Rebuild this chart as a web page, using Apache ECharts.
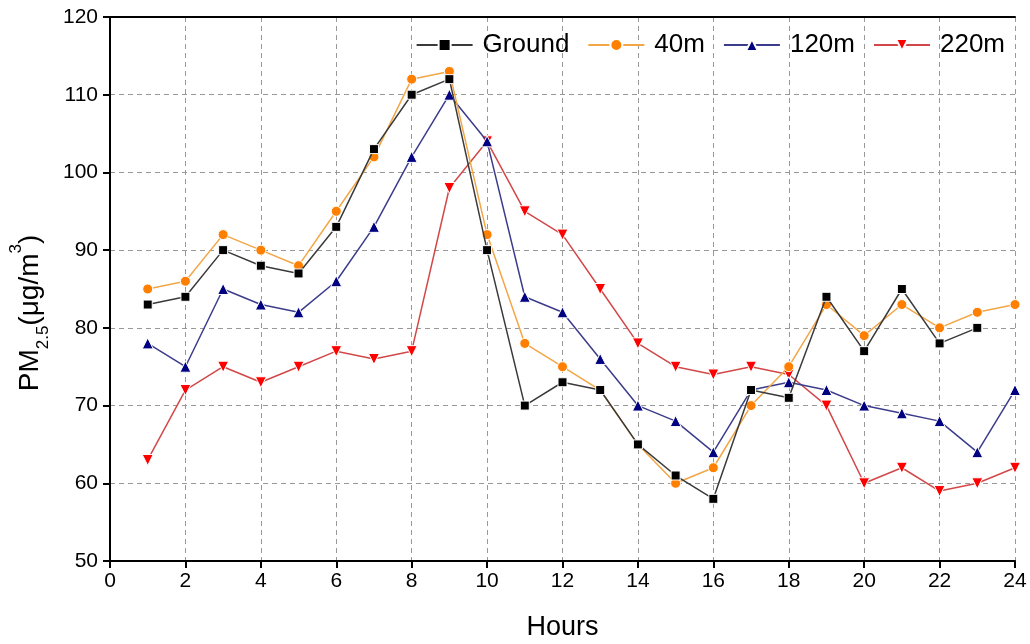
<!DOCTYPE html>
<html><head><meta charset="utf-8">
<script src="https://cdn.jsdelivr.net/npm/echarts@6/dist/echarts.min.js"></script>
<style>html,body{margin:0;padding:0;background:#fff}#c{width:1030px;height:644px}</style>
</head><body><div id="c"></div>
<script>
const hours = [1,2,3,4,5,6,7,8,9,10,11,12,13,14,15,16,17,18,19,20,21,22,23,24];
const ground = [83,84,90,88,87,93,103,110,112,90,70,73,72,65,61,58,72,71,84,77,85,78,80,null];
const m40 = [85,86,92,90,88,95,102,112,113,92,78,75,72,65,60,62,70,75,83,79,83,80,82,83];
const m120 = [78,75,85,83,82,86,93,102,110,104,84,82,76,70,68,64,72,73,72,70,69,68,64,72];
const m220 = [63,72,75,73,75,77,76,77,98,104,95,92,85,78,75,74,75,74,70,60,62,59,60,62];
const seriesNames = ['Ground','40m','120m','220m'];

const pairs = arr => hours.map((h,i)=>[h, arr[i]]);
const FONT = '"Liberation Sans", Arial, sans-serif';
function mk(name, data, lineColor, markColor, symbol, size, z){
  return {name, type:'line', data:pairs(data), symbol, symbolSize:size, z,
    xAxisIndex:0, yAxisIndex:0,
    lineStyle:{color:lineColor, width:1.5},
    itemStyle:{color:markColor, borderColor:'#fff', borderWidth:1},
    emphasis:{disabled:true}, connectNulls:false};
}
const frameAxis = {show:true, axisLine:{show:true, lineStyle:{color:'#000', width:2}},
  axisTick:{show:false}, axisLabel:{show:false}, splitLine:{show:false}};
const chart = echarts.init(document.getElementById('c'), null, {renderer:'canvas'});
chart.setOption({
  animation:false,
  textStyle:{fontFamily:FONT},
  grid:{left:110, right:15, top:17, bottom:83, containLabel:false, outerBoundsMode:'none'},
  legend:{top:27, right:20, itemWidth:56, itemHeight:15, itemGap:18,
    textStyle:{fontSize:26, color:'#000', fontFamily:FONT, padding:[0,0,0,5]}, data:seriesNames},
  xAxis:[{type:'value', min:0, max:24, interval:2,
    name:'Hours', nameLocation:'middle', nameGap:53,
    nameTextStyle:{fontSize:27, color:'#000', fontFamily:FONT},
    axisLine:{show:true, lineStyle:{color:'#000', width:2}},
    axisTick:{show:true, inside:false, length:7, lineStyle:{color:'#000', width:2}},
    axisLabel:{fontSize:21, color:'#000', margin:10, fontFamily:FONT},
    splitLine:{show:true, lineStyle:{color:'#999', type:[5,4], width:1}}},
    {type:'value', min:0, max:24, interval:2, position:'top', ...frameAxis}],
  yAxis:[{type:'value', min:50, max:120, interval:10,
    name:'{a|PM}{s|2.5}{a|(μg/m}{p|3}{a|)}', nameLocation:'middle', nameGap:58, nameRotate:90,
    nameTextStyle:{color:'#000', fontFamily:FONT, padding:[0,48,0,0], rich:{
      a:{fontSize:28, color:'#000', fontFamily:FONT, lineHeight:32, verticalAlign:'middle'},
      s:{fontSize:17, color:'#000', fontFamily:FONT, lineHeight:44, verticalAlign:'bottom'},
      p:{fontSize:17, color:'#000', fontFamily:FONT, lineHeight:20, verticalAlign:'top'}}},
    axisLine:{show:true, lineStyle:{color:'#000', width:2}},
    axisTick:{show:true, inside:false, length:7, lineStyle:{color:'#000', width:2}},
    axisLabel:{fontSize:21, color:'#000', margin:12, fontFamily:FONT},
    splitLine:{show:true, lineStyle:{color:'#999', type:[5,4], width:1}}},
    {type:'value', min:50, max:120, interval:10, position:'right', ...frameAxis}],
  series:[
    mk('Ground', ground, '#3a3a3a', '#000000', 'rect', 9, 5),
    mk('40m', m40, '#f2a646', '#ff8000', 'circle', 10, 4),
    mk('120m', m120, '#3c3c8c', '#000080', 'triangle', 11, 3),
    {...mk('220m', m220, '#d24848', '#ff0000', 'triangle', 11, 2), symbolRotate:180}
  ]
});
</script></body></html>
